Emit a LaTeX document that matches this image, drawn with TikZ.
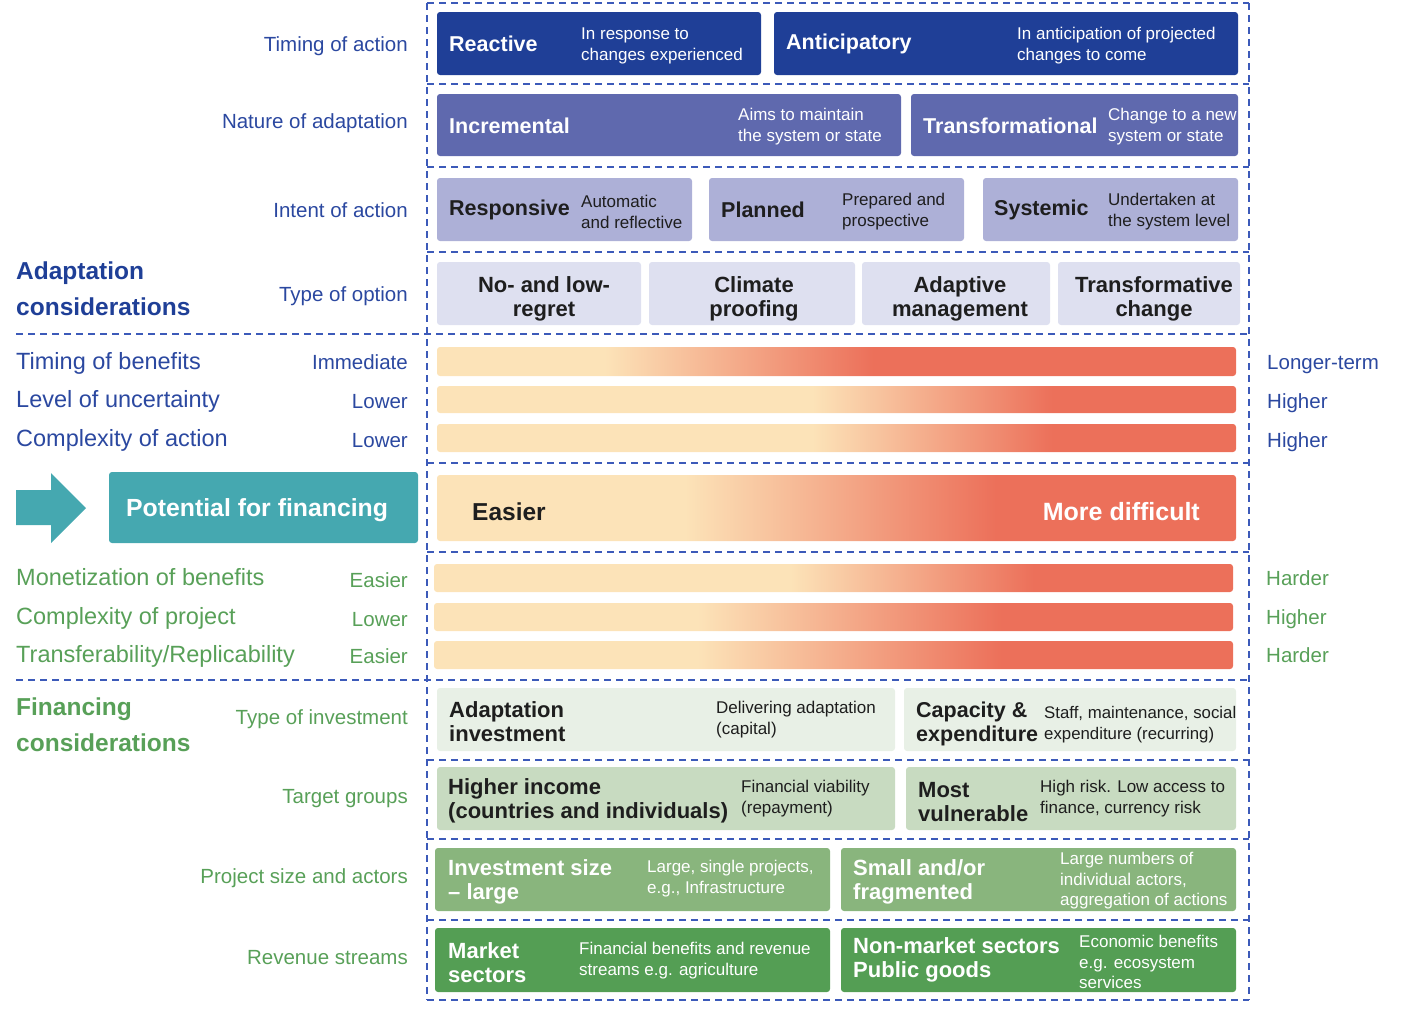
\documentclass[tikz,border=0pt]{standalone}
\usepackage{fontspec}
\setmainfont{Liberation Sans}
\usepackage{tikz}
\definecolor{navy}{RGB}{31,63,151}
\definecolor{midblue}{RGB}{95,105,174}
\definecolor{lavender}{RGB}{173,176,215}
\definecolor{palelav}{RGB}{222,224,240}
\definecolor{lblue}{RGB}{43,72,160}
\definecolor{dashblue}{RGB}{60,90,185}
\definecolor{tealbox}{RGB}{69,168,176}
\definecolor{peach}{RGB}{252,227,184}
\definecolor{coral}{RGB}{236,112,90}
\definecolor{gtext}{RGB}{88,160,88}
\definecolor{palegreen}{RGB}{232,240,230}
\definecolor{lightgreen}{RGB}{200,219,193}
\definecolor{midgreen}{RGB}{137,181,125}
\definecolor{darkgreen}{RGB}{84,158,84}
\definecolor{ink}{RGB}{30,30,30}
\pgfdeclarehorizontalshading{barone}{100bp}{color(0bp)=(peach); color(35.5bp)=(peach); color(52.3bp)=(coral); color(100bp)=(coral)}
\pgfdeclarehorizontalshading{bartwo}{100bp}{color(0bp)=(peach); color(48.5bp)=(peach); color(63.5bp)=(coral); color(100bp)=(coral)}
\pgfdeclarehorizontalshading{barbig}{100bp}{color(0bp)=(peach); color(40.5bp)=(peach); color(60bp)=(coral); color(100bp)=(coral)}
\pgfdeclarehorizontalshading{bargone}{100bp}{color(0bp)=(peach); color(47.3bp)=(peach); color(62.5bp)=(coral); color(100bp)=(coral)}
\pgfdeclarehorizontalshading{bargtwo}{100bp}{color(0bp)=(peach); color(41.5bp)=(peach); color(60.5bp)=(coral); color(100bp)=(coral)}
\tikzset{sep/.style={draw=dashblue,line width=1.2pt,dash pattern=on 7pt off 5pt},
 box/.style={rounded corners=3pt},
 hd/.style={anchor=west,inner sep=0pt,align=left,font=\fontsize{21.5}{24}\selectfont\bfseries},
 ds/.style={anchor=west,inner sep=0pt,align=left,yshift=-2pt,font=\fontsize{17}{21}\selectfont},
 opt/.style={inner sep=0pt,align=center,text=ink,font=\fontsize{22}{24}\selectfont\bfseries},
 sublbl/.style={inner sep=0pt,text height=0.72em,text depth=0.2em,yshift=-5pt,font=\fontsize{20.5}{24}\selectfont},
 catlbl/.style={anchor=west,inner sep=0pt,text height=0.72em,text depth=0.2em,yshift=-5pt,font=\fontsize{23.5}{28}\selectfont},
 section/.style={anchor=west,inner sep=0pt,align=left,font=\fontsize{24.5}{36}\selectfont\bfseries}}

\begin{document}
\begin{tikzpicture}[x=1pt,y=-1pt]
\useasboundingbox (0,0) rectangle (1402,1012);
% dashed frame
\draw[sep] (427,3) -- (1249,3);
\draw[sep] (427,84) -- (1249,84);
\draw[sep] (427,167) -- (1249,167);
\draw[sep] (427,252) -- (1249,252);
\draw[sep] (16,334) -- (1249,334);
\draw[sep] (427,463) -- (1249,463);
\draw[sep] (427,552) -- (1249,552);
\draw[sep] (16,680) -- (1249,680);
\draw[sep] (427,760) -- (1249,760);
\draw[sep] (427,839) -- (1249,839);
\draw[sep] (427,920) -- (1249,920);
\draw[sep] (427,1000) -- (1249,1000);
\draw[sep] (427,3) -- (427,1000);
\draw[sep] (1249,3) -- (1249,1000);
% timing of action
\node[sublbl,anchor=east,text=lblue] (timing) at (408,44) {Timing of action};
\path[fill=navy,box] (437,12) rectangle (761,75);
\path[fill=navy,box] (774,12) rectangle (1238,75);
\node[hd,text=white] (reactive) at (449,44) {Reactive};
\node[ds,text=white] (reactivetxt) at (581,43.5) {In response to\\changes experienced};
\node[hd,text=white] (anticip) at (786,44) {Anticipatory};
\node[ds,text=white] (anticiptxt) at (1017,43.5) {In anticipation of projected\\changes to come};
% nature of adaptation
\node[sublbl,anchor=east,text=lblue] (nature) at (408,121) {Nature of adaptation};
\path[fill=midblue,box] (437,94) rectangle (901,156);
\path[fill=midblue,box] (911,94) rectangle (1238,156);
\node[hd,text=white] (increm) at (449,125.5) {Incremental};
\node[ds,text=white] (incremtxt) at (738,125) {Aims to maintain\\the system or state};
\node[hd,text=white] (transf) at (923,125.5) {Transformational};
\node[ds,text=white] (transftxt) at (1108,125) {Change to a new\\system or state};
% intent of action
\node[sublbl,anchor=east,text=lblue] (intent) at (408,210) {Intent of action};
\path[fill=lavender,box] (437,178) rectangle (692,241);
\path[fill=lavender,box] (709,178) rectangle (964,241);
\path[fill=lavender,box] (983,178) rectangle (1238,241);
\node[hd,text=ink] (respons) at (449,210) {Responsive};
\node[ds,text=ink] (responstxt) at (581,209.5) {Automatic\\and reflective};
\node[hd,text=ink] (planned) at (721,210) {Planned};
\node[ds,text=ink] (plannedtxt) at (842,209.5) {Prepared and\\prospective};
\node[hd,text=ink] (systemic) at (994,210) {Systemic};
\node[ds,text=ink] (systemictxt) at (1108,209.5) {Undertaken at\\the system level};
% type of option
\node[section,text=navy] (adapt) at (16,289) {Adaptation\\considerations};
\node[sublbl,anchor=east,text=lblue] (option) at (408,294) {Type of option};
\path[fill=palelav,box] (437,262) rectangle (641,325);
\path[fill=palelav,box] (649,262) rectangle (855,325);
\path[fill=palelav,box] (862,262) rectangle (1050,325);
\path[fill=palelav,box] (1058,262) rectangle (1240,325);
\node[opt] (noregret) at (544,299) {No- and low-\\regret};
\node[opt] (proofing) at (754,299) {Climate\\proofing};
\node[opt] (adaptmgmt) at (960,299) {Adaptive\\management};
\node[opt] (transchange) at (1154,299) {Transformative\\change};
% adaptation bars
\shade[shading=barone,box] (437,347) rectangle (1236,376);
\shade[shading=bartwo,box] (437,386) rectangle (1236,413);
\shade[shading=bartwo,box] (437,424) rectangle (1236,452);
\node[catlbl,text=lblue] (benefits) at (16,362) {Timing of benefits};
\node[catlbl,text=lblue] (uncert) at (16,400) {Level of uncertainty};
\node[catlbl,text=lblue] (complex) at (16,439) {Complexity of action};
\node[sublbl,anchor=east,text=lblue] (immediate) at (408,362) {Immediate};
\node[sublbl,anchor=east,text=lblue] (lowerone) at (408,401) {Lower};
\node[sublbl,anchor=east,text=lblue] (lowertwo) at (408,440) {Lower};
\node[sublbl,anchor=west,text=lblue] (longer) at (1267,362) {Longer-term};
\node[sublbl,anchor=west,text=lblue] (higherone) at (1267,401) {Higher};
\node[sublbl,anchor=west,text=lblue] (highertwo) at (1267,440) {Higher};
% potential for financing
\fill[tealbox] (16,490) -- (51,490) -- (51,473) -- (86,508) -- (51,543) -- (51,525) -- (16,525) -- cycle;
\path[fill=tealbox,box] (109,472) rectangle (418,543);
\node[anchor=west,inner sep=0pt,text=white,font=\fontsize{24.8}{28}\selectfont\bfseries] (potential) at (126,510) {Potential for financing};
\shade[shading=barbig,box] (437,475) rectangle (1236,541);
\node[anchor=west,inner sep=0pt,text=ink,font=\fontsize{24.5}{28}\selectfont\bfseries] (easier) at (472,511.5) {Easier};
\node[anchor=east,inner sep=0pt,text=white,font=\fontsize{25}{28}\selectfont\bfseries] (difficult) at (1200,511.5) {More difficult};
% financing bars
\shade[shading=bargone,box] (434,564) rectangle (1233,592);
\shade[shading=bargtwo,box] (434,603) rectangle (1233,631);
\shade[shading=bargtwo,box] (434,641) rectangle (1233,669);
\node[catlbl,text=gtext] (monet) at (16,578) {Monetization of benefits};
\node[catlbl,text=gtext] (project) at (16,617) {Complexity of project};
\node[catlbl,text=gtext] (transfer) at (16,655) {Transferability/Replicability};
\node[sublbl,anchor=east,text=gtext] (easierone) at (408,580) {Easier};
\node[sublbl,anchor=east,text=gtext] (lowerthree) at (408,619) {Lower};
\node[sublbl,anchor=east,text=gtext] (easiertwo) at (408,656) {Easier};
\node[sublbl,anchor=west,text=gtext] (harderone) at (1266,578) {Harder};
\node[sublbl,anchor=west,text=gtext] (higherthree) at (1266,617) {Higher};
\node[sublbl,anchor=west,text=gtext] (hardertwo) at (1266,655) {Harder};
% type of investment
\node[section,text=gtext] (financ) at (16,725) {Financing\\considerations};
\node[sublbl,anchor=east,text=gtext] (investtype) at (408,717) {Type of investment};
\path[fill=palegreen,box] (437,688) rectangle (895,751);
\path[fill=palegreen,box] (904,688) rectangle (1236,751);
\node[hd,text=ink,font=\fontsize{22}{24}\selectfont\bfseries] (adinvest) at (449,722) {Adaptation\\investment};
\node[ds,text=ink] (adinvesttxt) at (716,718) {Delivering adaptation\\(capital)};
\node[hd,text=ink,font=\fontsize{21.5}{24}\selectfont\bfseries] (capacity) at (916,724) {Capacity \&\\expenditure};
\node[ds,text=ink,font=\fontsize{16.8}{21}\selectfont] (capacitytxt) at (1044,723) {Staff, maintenance, social\\expenditure (recurring)};
% target groups
\node[sublbl,anchor=east,text=gtext] (target) at (408,796) {Target groups};
\path[fill=lightgreen,box] (437,767) rectangle (895,830);
\path[fill=lightgreen,box] (906,767) rectangle (1236,830);
\node[hd,text=ink,font=\fontsize{22}{24}\selectfont\bfseries] (highinc) at (448,801) {Higher income\\(countries and individuals)};
\node[ds,text=ink] (highinctxt) at (741,797) {Financial viability\\(repayment)};
\node[hd,text=ink,font=\fontsize{22}{24}\selectfont\bfseries] (vulner) at (918,802) {Most\\vulnerable};
\node[ds,text=ink] (vulnertxt) at (1040,797) {High risk. Low access to\\finance, currency risk};
% project size and actors
\node[sublbl,anchor=east,text=gtext] (size) at (408,876) {Project size and actors};
\path[fill=midgreen,box] (435,848) rectangle (830,911);
\path[fill=midgreen,box] (841,848) rectangle (1236,911);
\node[hd,text=white,font=\fontsize{22}{24}\selectfont\bfseries] (large) at (448,882) {Investment size\\-- large};
\node[ds,text=white] (largetxt) at (647,877) {Large, single projects,\\e.g., Infrastructure};
\node[hd,text=white,font=\fontsize{22}{24}\selectfont\bfseries] (small) at (853,882) {Small and/or\\fragmented};
\node[ds,text=white,font=\fontsize{17}{20.5}\selectfont] (smalltxt) at (1060,879) {Large numbers of\\individual actors,\\aggregation of actions};
% revenue streams
\node[sublbl,anchor=east,text=gtext] (revenue) at (408,957) {Revenue streams};
\path[fill=darkgreen,box] (435,928) rectangle (830,992);
\path[fill=darkgreen,box] (841,928) rectangle (1236,992);
\node[hd,text=white,font=\fontsize{22}{24}\selectfont\bfseries] (market) at (448,963) {Market\\sectors};
\node[ds,text=white] (markettxt) at (579,959) {Financial benefits and revenue\\streams e.g. agriculture};
\node[hd,text=white,font=\fontsize{22}{24}\selectfont\bfseries] (nonmarket) at (853,960) {Non-market sectors\\Public goods};
\node[ds,text=white,font=\fontsize{17}{20.5}\selectfont] (nonmarkettxt) at (1079,960) {Economic benefits\\e.g. ecosystem\\services};
\end{tikzpicture}
\end{document}
